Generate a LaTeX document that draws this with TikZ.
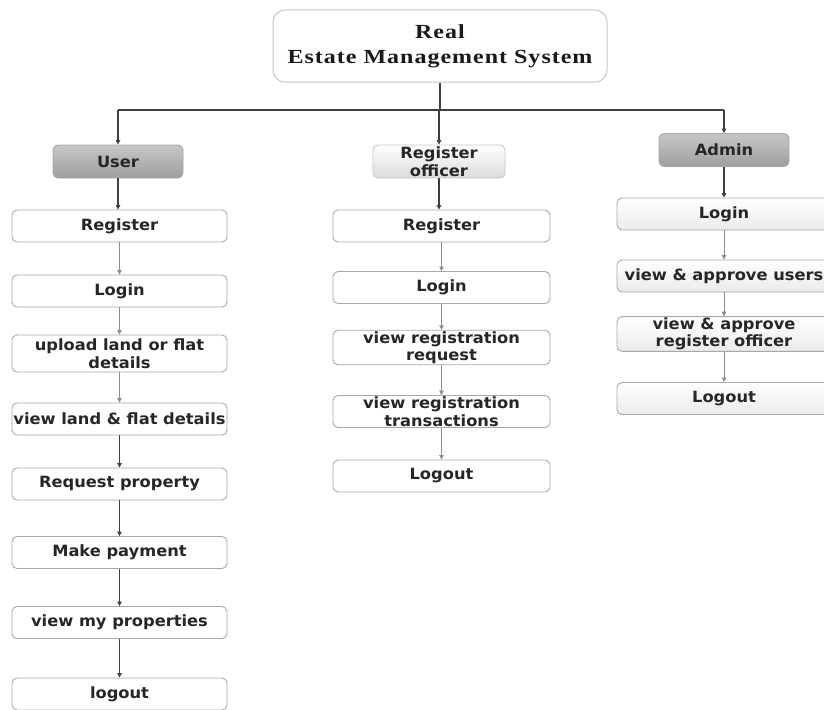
\documentclass[tikz,border=0pt]{standalone}
\usepackage{fontspec}
\setmainfont{DejaVu Sans}
\newfontfamily\boxfont[FakeStretch=1.05]{DejaVu Sans}
\newfontfamily\titlefont[FakeStretch=1.2,LetterSpace=5]{Liberation Serif}
\usetikzlibrary{arrows.meta}
\definecolor{edge}{HTML}{A8A8A8}
\definecolor{txt}{HTML}{262626}
\definecolor{darkln}{HTML}{404040}
\definecolor{lightln}{HTML}{8C8C8C}
\tikzset{
  box/.style={draw=edge, line width=0.9pt, rounded corners=5pt, fill=white,
    minimum height=32pt, inner sep=1pt, align=center, text=txt,
    font=\boxfont\fontsize{15.5}{17.5}\selectfont\bfseries},
  ubox/.style={box, minimum width=215pt},
  rbox/.style={box, minimum width=217pt},
  abox/.style={box, minimum width=214pt, top color=white, bottom color=black!8},
  darkhead/.style={box, minimum width=130pt, minimum height=33pt,
    top color=black!22, bottom color=black!38, draw=black!35},
  lighthead/.style={box, minimum width=132pt, minimum height=33pt,
    top color=white, bottom color=black!14, draw=black!22},
  titlebox/.style={draw=black!22, line width=1pt, rounded corners=12pt, fill=white,
    minimum width=334pt, minimum height=72pt, align=center, text=black!90,
    font=\titlefont\fontsize{20}{25}\selectfont\bfseries},
  tip/.style={-{Triangle[width=4.5pt,length=4.5pt]}},
  dk/.style={tip, draw=darkln, line width=1.1pt},
  lt/.style={tip, draw=lightln, line width=0.9pt},
}
\begin{document}
\begin{tikzpicture}[x=1pt,y=-1pt]
\useasboundingbox (0,0) rectangle (824,709);
\clip (0,0) rectangle (824,709);
\node[titlebox] (title) at (440,46) {Real\\Estate Management System};
\node[darkhead] (user) at (118,161.5) {User};
\node[lighthead, font=\boxfont\fontsize{15.5}{18.5}\selectfont\bfseries] (ro) at (439,161.5) {Register\\officer};
\node[darkhead] (admin) at (724,150) {Admin};
% user column
\node[ubox] (u1) at (119.5,226) {Register};
\node[ubox] (u2) at (119.5,291) {Login};
\node[ubox, minimum height=37pt] (u3) at (119.5,353.5) {upload land or flat\\details};
\node[ubox] (u4) at (119.5,419) {view land \& flat details};
\node[ubox] (u5) at (119.5,484) {Request property};
\node[ubox] (u6) at (119.5,552.5) {Make payment};
\node[ubox] (u7) at (119.5,622.5) {view my properties};
\node[ubox] (u8) at (119.5,694) {logout};
% register officer column
\node[rbox] (r1) at (441.5,226) {Register};
\node[rbox] (r2) at (441.5,287.5) {Login};
\node[rbox] (r3) at (441.5,347.5) {view registration\\request};
\node[rbox] (r4) at (441.5,411.5) {view registration\\transactions};
\node[rbox] (r5) at (441.5,476) {Logout};
% admin column
\node[abox] (a1) at (724,214) {Login};
\node[abox] (a2) at (724,276) {view \& approve users};
\node[abox] (a3) at (724,334) {view \& approve\\register officer};
\node[abox] (a4) at (724,398.5) {Logout};
% top connectors
\coordinate (bus) at (440,110);
\draw[darkln, line width=1.1pt] (title.south) -- (bus);
\draw[darkln, line width=1.1pt] (bus -| user.north) -- (bus -| admin.north);
\draw[dk] (bus -| user.north) -- (user.north);
\draw[dk] (bus -| ro.north) -- (ro.north);
\draw[dk] (bus -| admin.north) -- (admin.north);
% heads to first boxes
\draw[dk] (user.south) -- (user.south |- u1.north);
\draw[dk] (ro.south) -- (ro.south |- r1.north);
\draw[dk] (admin.south) -- (a1.north);
% user chain
\draw[lt] (u1) -- (u2);
\draw[lt] (u2) -- (u3);
\draw[lt] (u3) -- (u4);
\draw[dk] (u4) -- (u5);
\draw[dk] (u5) -- (u6);
\draw[dk] (u6) -- (u7);
\draw[dk] (u7) -- (u8);
% register officer chain
\draw[lt] (r1) -- (r2);
\draw[lt] (r2) -- (r3);
\draw[lt] (r3) -- (r4);
\draw[lt] (r4) -- (r5);
% admin chain
\draw[lt] (a1) -- (a2);
\draw[lt] (a2) -- (a3);
\draw[lt] (a3) -- (a4);
\end{tikzpicture}
\end{document}
